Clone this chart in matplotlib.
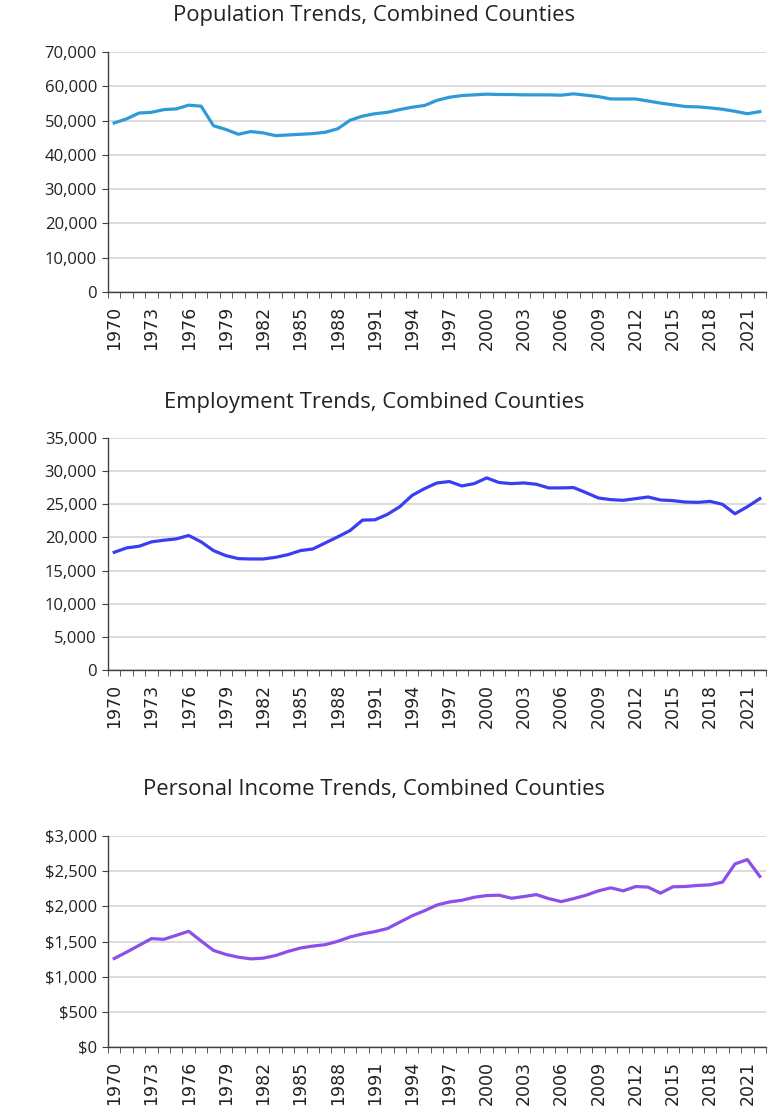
import matplotlib
matplotlib.use("Agg")
import matplotlib.pyplot as plt
from matplotlib.ticker import FuncFormatter, FixedLocator

years = list(range(1970, 2023))

population = [49300, 50500, 52200, 52400, 53200, 53400, 54500, 54200, 48500, 47400,
              46000, 46800, 46400, 45600, 45800, 46000, 46200, 46600, 47600, 50100,
              51300, 52000, 52400, 53200, 53900, 54400, 55900, 56800, 57300, 57500,
              57700, 57600, 57600, 57500, 57500, 57500, 57400, 57800, 57400, 57000,
              56300, 56300, 56300, 55700, 55100, 54600, 54100, 54000, 53700, 53300,
              52700, 52000, 52600]

employment = [17760, 18420, 18670, 19330, 19580, 19780, 20290, 19330, 18010, 17250,
              16800, 16750, 16750, 17000, 17400, 18010, 18260, 19170, 20080, 21040,
              22610, 22660, 23470, 24630, 26350, 27370, 28220, 28430, 27770, 28120,
              28980, 28280, 28120, 28220, 28020, 27470, 27470, 27520, 26760, 25950,
              25700, 25600, 25850, 26100, 25650, 25550, 25340, 25290, 25440, 24990,
              23570, 24630, 25850]

income = [1258, 1349, 1445, 1541, 1531, 1588, 1646, 1507, 1373, 1316,
          1277, 1253, 1263, 1301, 1359, 1407, 1435, 1455, 1502, 1565,
          1608, 1641, 1684, 1775, 1866, 1938, 2019, 2062, 2086, 2129,
          2153, 2158, 2115, 2139, 2167, 2110, 2067, 2110, 2158, 2220,
          2263, 2220, 2282, 2273, 2187, 2278, 2282, 2297, 2306, 2345,
          2603, 2665, 2426]

titles = ["Population Trends, Combined Counties",
          "Employment Trends, Combined Counties",
          "Personal Income Trends, Combined Counties"]

fig = plt.figure(figsize=(7.76, 11.13), dpi=100)

W, H = 776, 1113
panels = [
    # (top px, bottom px, series, color, ymax, step, fmt, title y px)
    (52, 292, population, "#2f9ad8", 70000, 10000, lambda v, p: f"{int(v):,}", 16),
    (438, 670, employment, "#3b3df2", 35000, 5000, lambda v, p: f"{int(v):,}", 402),
    (836, 1047, income, "#8a50e8", 3000, 500, lambda v, p: f"${int(v):,}", 790),
]

text_col = "#222222"
x = list(range(len(years)))
for (top, bot, series, color, ymax, step, fmt, ty), title in zip(panels, titles):
    ax = fig.add_axes([108 / W, (H - bot) / H, 658 / W, (bot - top) / H])
    ax.plot(x, series, color=color, lw=2.3, solid_joinstyle="round")
    ax.set_xlim(-0.5, len(years) - 0.5)
    ax.set_ylim(0, ymax)
    ax.set_yticks(range(0, ymax + 1, step))
    ax.yaxis.set_major_formatter(FuncFormatter(fmt))
    ax.grid(axis="y", color="#d9d9d9", lw=1.3)
    ax.set_axisbelow(True)
    for s in ("top", "right"):
        ax.spines[s].set_visible(False)
    for s in ("left", "bottom"):
        ax.spines[s].set_color("#404040")
        ax.spines[s].set_linewidth(1.0)
    ax.set_xticks(x[::3])
    ax.set_xticklabels([str(y) for y in years[::3]], rotation=90,
                       fontsize=12.5, family="DejaVu Sans", color=text_col)
    ax.xaxis.set_minor_locator(FixedLocator([i - 0.5 for i in range(len(years) + 1)]))
    ax.tick_params(axis="x", which="major", length=0, pad=10)
    ax.tick_params(axis="x", which="minor", length=4, color="#404040")
    ax.tick_params(axis="y", length=4, color="#404040", pad=4, labelcolor=text_col)
    for lab in ax.get_yticklabels():
        lab.set_family("Open Sans")
        lab.set_fontsize(12)
    fig.text(374 / W, 1 - ty / H, title, ha="center", va="center",
             fontsize=15.8, family="Open Sans", color=text_col)

fig.savefig("out.png", dpi=100)
